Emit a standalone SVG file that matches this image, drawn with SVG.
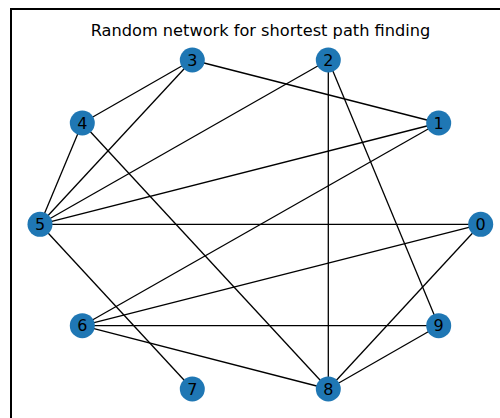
<svg xmlns="http://www.w3.org/2000/svg" width="500" height="418" viewBox="0 0 500 418">
<style>
.edge{stroke:#000;stroke-width:1.3;fill:none}
.node circle{fill:#1f77b4}
.node text{font-family:"DejaVu Sans",sans-serif;font-size:16px;fill:#000;text-anchor:middle;dominant-baseline:central}
.title{font-family:"DejaVu Sans",sans-serif;font-size:16.2px;fill:#000;text-anchor:middle}
</style>
<rect width="500" height="418" fill="#fff"/>
<path d="M11 420 V9 H502" fill="none" stroke="#000" stroke-width="2"/>
<text class="title" x="260.5" y="36">Random network for shortest path finding</text>
<g id="edges">
<line class="edge" x1="192.3" y1="60" x2="82.3" y2="123"/>
<line class="edge" x1="192.3" y1="60" x2="40" y2="224.3"/>
<line class="edge" x1="192.3" y1="60" x2="438.7" y2="123"/>
<line class="edge" x1="328.3" y1="60" x2="40" y2="224.3"/>
<line class="edge" x1="328.3" y1="60" x2="328.3" y2="389"/>
<line class="edge" x1="328.3" y1="60" x2="438.7" y2="325.7"/>
<line class="edge" x1="82.3" y1="123" x2="40" y2="224.3"/>
<line class="edge" x1="82.3" y1="123" x2="328.3" y2="389"/>
<line class="edge" x1="438.7" y1="123" x2="40" y2="224.3"/>
<line class="edge" x1="438.7" y1="123" x2="82.3" y2="325.7"/>
<line class="edge" x1="40" y1="224.3" x2="480.7" y2="224.3"/>
<line class="edge" x1="40" y1="224.3" x2="192.3" y2="389"/>
<line class="edge" x1="480.7" y1="224.3" x2="82.3" y2="325.7"/>
<line class="edge" x1="480.7" y1="224.3" x2="328.3" y2="389"/>
<line class="edge" x1="82.3" y1="325.7" x2="438.7" y2="325.7"/>
<line class="edge" x1="82.3" y1="325.7" x2="328.3" y2="389"/>
<line class="edge" x1="438.7" y1="325.7" x2="328.3" y2="389"/>
</g>
<g id="node0" class="node"><circle cx="480.7" cy="224.3" r="12.5"/><text x="480.7" y="224.3">0</text></g>
<g id="node1" class="node"><circle cx="438.7" cy="123" r="12.5"/><text x="438.7" y="123">1</text></g>
<g id="node2" class="node"><circle cx="328.3" cy="60" r="12.5"/><text x="328.3" y="60">2</text></g>
<g id="node3" class="node"><circle cx="192.3" cy="60" r="12.5"/><text x="192.3" y="60">3</text></g>
<g id="node4" class="node"><circle cx="82.3" cy="123" r="12.5"/><text x="82.3" y="123">4</text></g>
<g id="node5" class="node"><circle cx="40" cy="224.3" r="12.5"/><text x="40" y="224.3">5</text></g>
<g id="node6" class="node"><circle cx="82.3" cy="325.7" r="12.5"/><text x="82.3" y="325.7">6</text></g>
<g id="node7" class="node"><circle cx="192.3" cy="389" r="12.5"/><text x="192.3" y="389">7</text></g>
<g id="node8" class="node"><circle cx="328.3" cy="389" r="12.5"/><text x="328.3" y="389">8</text></g>
<g id="node9" class="node"><circle cx="438.7" cy="325.7" r="12.5"/><text x="438.7" y="325.7">9</text></g>
</svg>
